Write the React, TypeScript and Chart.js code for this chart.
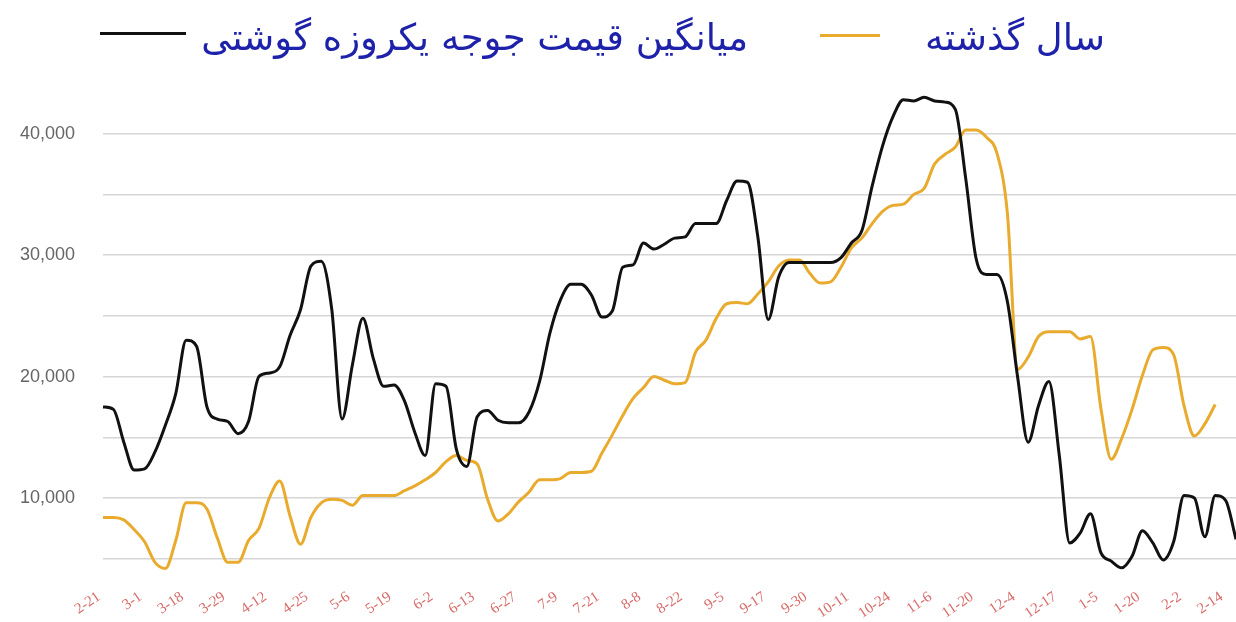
import React, { useEffect, useRef } from 'react';
import { Chart, registerables } from 'chart.js';

Chart.register(...registerables);

// Tick labels (Persian calendar month-day), one every 4 samples
const tickLabels = [
  '2-21', '3-1', '3-18', '3-29', '4-12', '4-25', '5-6', '5-19', '6-2', '6-13',
  '6-27', '7-9', '7-21', '8-8', '8-22', '9-5', '9-17', '9-30', '10-11', '10-24',
  '11-6', '11-20', '12-4', '12-17', '1-5', '1-20', '2-2', '2-14',
];
const samplesPerTick = 4;
const sampleCount = 110;

// Y gridlines and which of them carry a label
const yGridValues = [5000, 10000, 15000, 20000, 25000, 30000, 35000, 40000];
const yLabelledValues = [10000, 20000, 30000, 40000];

// Average price of one-day-old broiler chick (black)
const avgPrice = [
  17500, 17300, 14600, 12300, 12400, 13800, 16000, 18600, 23000, 22500,
  17500, 16500, 16300, 15300, 16300, 20000, 20300, 20800, 23400, 25500,
  29100, 29500, 25600, 16500, 21000, 24800, 21500, 19200, 19300, 18000,
  15400, 13500, 19400, 19200, 14000, 12600, 16700, 17200, 16400, 16200,
  16200, 17100, 19600, 23600, 26300, 27600, 27600, 26700, 24900, 25400,
  29000, 29200, 31000, 30500, 30900, 31400, 31500, 32600, 32600, 32600,
  34500, 36100, 36000, 31500, 24700, 28200, 29400, 29400, 29400, 29400,
  29400, 29800, 31000, 32000, 35700, 39000, 41400, 42800, 42700, 43000,
  42700, 42600, 42000, 36300, 29700, 28400, 28400, 26200, 19900, 14600,
  17600, 19600, 13500, 6300, 7100, 8700, 5500, 4800, 4250, 5200,
  7300, 6300, 4900, 6400, 10200, 10000, 6800, 10200, 9800, 6600,
];

// Last year (yellow)
const lastYear = [
  8400, 8400, 8200, 7400, 6400, 4700, 4200, 6500, 9600, 9600,
  9100, 6700, 4700, 4700, 6500, 7500, 10000, 11400, 8500, 6200,
  8400, 9600, 9900, 9800, 9400, 10200, 10200, 10200, 10200, 10600,
  11000, 11500, 12100, 13000, 13500, 13100, 12800, 9900, 8100, 8700,
  9700, 10500, 11500, 11500, 11600, 12100, 12100, 12200, 13700, 15200,
  16800, 18200, 19100, 20000, 19700, 19400, 19500, 22000, 23000, 24800,
  26000, 26100, 26000, 26800, 27800, 29100, 29600, 29600, 28500, 27700,
  27800, 29000, 30600, 31400, 32600, 33600, 34100, 34200, 35000, 35500,
  37500, 38300, 38900, 40300, 40300, 39700, 38400, 33500, 20600, 21600,
  23300, 23700, 23700, 23700, 23100, 23300, 17400, 13200, 14900, 17300,
  20100, 22200, 22400, 21800, 17600, 15100, 16100, 17700, null, null,
];

const legendAvg = 'میانگین قیمت جوجه یکروزه گوشتی';
const legendPrev = 'سال گذشته';

const categories: string[] = Array.from({ length: sampleCount }, (_, i) =>
  i % samplesPerTick === 0 && tickLabels[i / samplesPerTick] !== undefined
    ? tickLabels[i / samplesPerTick]
    : ''
);

export default function App() {
  const ref = useRef<HTMLCanvasElement>(null);

  useEffect(() => {
    document.body.style.margin = '0';
    const chart = new Chart(ref.current as HTMLCanvasElement, {
      type: 'line',
      data: {
        labels: categories,
        datasets: [
          {
            label: legendAvg,
            data: avgPrice,
            borderColor: '#111111',
            borderWidth: 3,
            pointRadius: 0,
            cubicInterpolationMode: 'monotone',
            fill: false,
          },
          {
            label: legendPrev,
            data: lastYear,
            borderColor: '#E9AB2E',
            borderWidth: 3,
            pointRadius: 0,
            cubicInterpolationMode: 'monotone',
            fill: false,
            spanGaps: false,
          },
        ],
      },
      options: {
        animation: false,
        responsive: true,
        maintainAspectRatio: false,
        layout: { padding: { top: 73, right: 0, left: 0, bottom: 0 } },
        plugins: { legend: { display: false }, tooltip: { enabled: false } },
        scales: {
          x: {
            grid: { display: false },
            border: { display: false },
            ticks: {
              autoSkip: false,
              minRotation: 34,
              maxRotation: 34,
              color: '#d96b6b',
              font: { family: 'Liberation Serif', size: 15 },
              padding: -3,
              labelOffset: -4,
            },
            afterFit: (s: any) => {
              s.height = 39;
              s.paddingRight = 0;
            },
          },
          y: {
            min: 3000,
            max: 45000,
            border: { display: false },
            grid: { color: '#d6d6d6', lineWidth: 1.5, drawTicks: false },
            afterBuildTicks: (s: any) => {
              s.ticks = yGridValues.map((v) => ({ value: v }));
            },
            ticks: {
              autoSkip: false,
              color: '#666666',
              font: { family: 'Liberation Sans', size: 18 },
              padding: 28,
              callback: (v: any) => {
                const n = Number(v);
                return yLabelledValues.includes(n) ? n.toLocaleString('en-US') : '';
              },
            },
            afterFit: (s: any) => {
              s.width = 103;
            },
          },
        },
      },
    });
    return () => chart.destroy();
  }, []);

  const textStyle: React.CSSProperties = {
    position: 'absolute',
    top: 13,
    direction: 'rtl',
    whiteSpace: 'nowrap',
    fontFamily: '"DejaVu Sans", sans-serif',
    fontSize: 37,
    lineHeight: '50px',
    color: '#1e22aa',
  };

  return (
    <div style={{ position: 'relative', width: 1236, height: 622, background: '#fff' }}>
      <canvas ref={ref} />
      <div style={{ position: 'absolute', left: 100, top: 32, width: 86, height: 3, background: '#111' }} />
      <div style={{ ...textStyle, right: 1236 - 748 }}>{legendAvg}</div>
      <div style={{ position: 'absolute', left: 820, top: 34, width: 60, height: 3, background: '#E9AB2E' }} />
      <div style={{ ...textStyle, right: 1236 - 1105 }}>{legendPrev}</div>
    </div>
  );
}
